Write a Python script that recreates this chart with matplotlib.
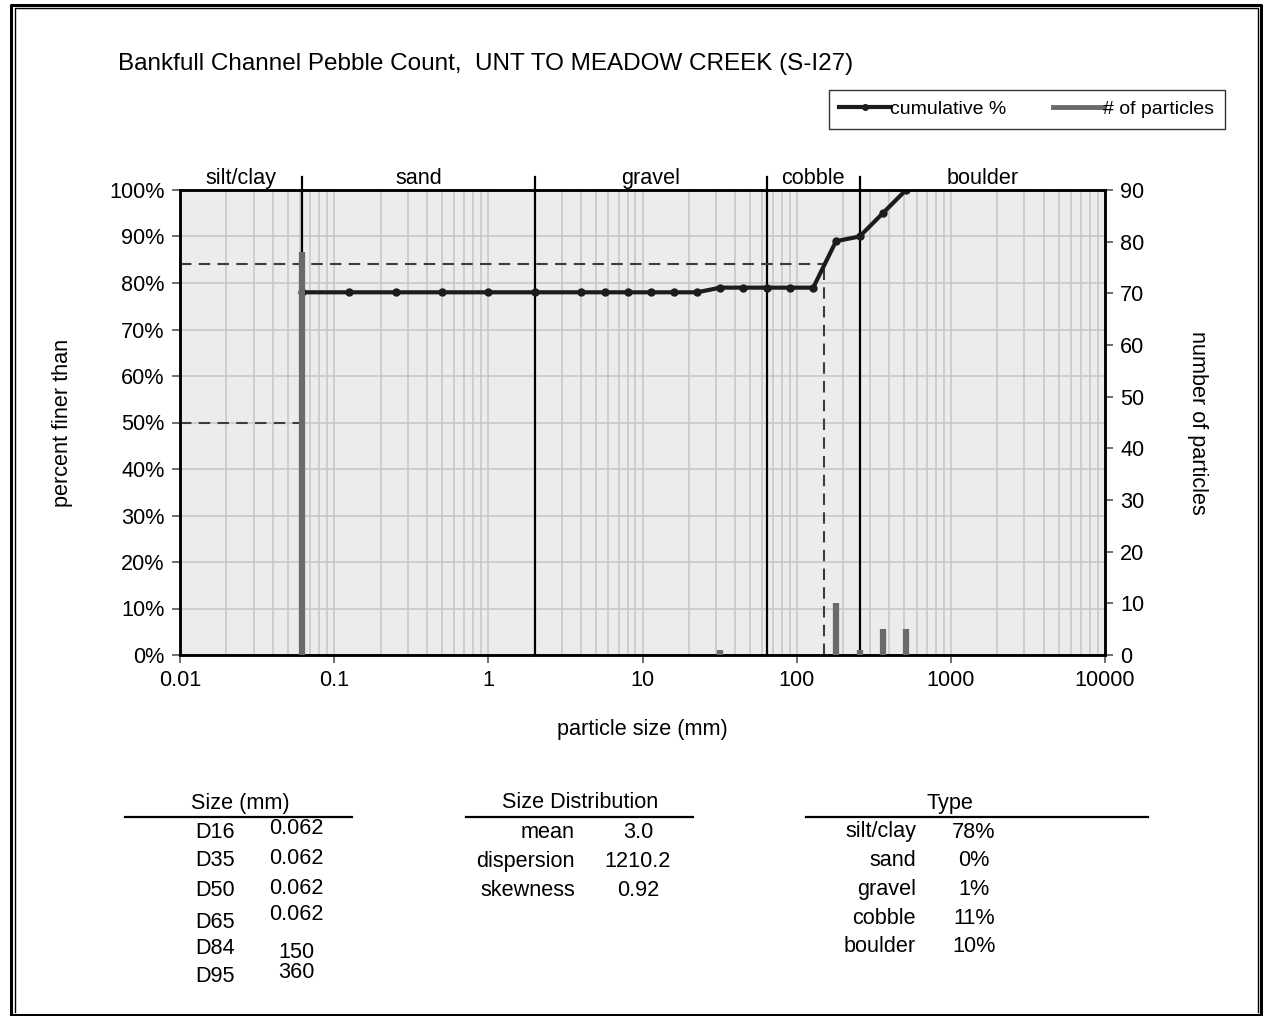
import matplotlib
matplotlib.use("Agg")
import matplotlib.pyplot as plt
from matplotlib.lines import Line2D
import matplotlib.transforms as mtransforms
from matplotlib.ticker import FixedLocator, NullFormatter

plt.rcParams['font.family'] = ['Liberation Sans', 'DejaVu Sans']

# data
sizes = [0.062, 0.125, 0.25, 0.5, 1, 2, 4, 5.7, 8, 11.3, 16, 22.6, 32, 45, 64, 90, 128, 180, 256, 362, 512]
cumulative = [78, 78, 78, 78, 78, 78, 78, 78, 78, 78, 78, 78, 79, 79, 79, 79, 79, 89, 90, 95, 100]
bar_sizes = [0.062, 32, 180, 256, 362, 512]
bar_counts = [78, 1, 10, 1, 5, 5]
class_names = ['silt/clay', 'sand', 'gravel', 'cobble', 'boulder']
class_bounds = [0.01, 0.062, 2, 64, 256, 10000]
d50 = 0.062
d84 = 150

size_labels = ['D16', 'D35', 'D50', 'D65', 'D84', 'D95']
size_values = ['0.062', '0.062', '0.062', '0.062', '150', '360']
dist_labels = ['mean', 'dispersion', 'skewness']
dist_values = ['3.0', '1210.2', '0.92']
type_labels = ['silt/clay', 'sand', 'gravel', 'cobble', 'boulder']
type_values = ['78%', '0%', '1%', '11%', '10%']

W, H = 1263, 1016
fig = plt.figure(figsize=(W / 100, H / 100), dpi=100)


def fx(x):
    return x / W


def fy(y):
    return 1 - y / H


FS = 15.6
ax = fig.add_axes([fx(180), fy(655), fx(925), 465 / H])
ax.set_facecolor('#ececec')
ax.set_xscale('log')
ax.set_xlim(0.01, 10000)
ax.set_ylim(0, 100)

# grid
minor = [m * 10.0 ** e for e in range(-2, 4) for m in range(2, 10)]
ax.xaxis.set_minor_locator(FixedLocator(minor))
ax.xaxis.set_minor_formatter(NullFormatter())
ax.set_xticks([0.01, 0.1, 1, 10, 100, 1000, 10000])
ax.set_xticklabels(['0.01', '0.1', '1', '10', '100', '1000', '10000'])
ax.set_yticks(range(0, 101, 10))
ax.set_yticklabels([f'{v}%' for v in range(0, 101, 10)])
ax.grid(True, which='both', axis='x', color='#c6c6c6', lw=1.1, zorder=0)
ax.grid(True, which='major', axis='y', color='#c6c6c6', lw=1.1, zorder=0)
ax.set_axisbelow(True)
ax.tick_params(axis='x', which='minor', length=0)
ax.tick_params(axis='both', which='major', labelsize=FS, length=6, width=1.2,
               color='#555555', direction='out', pad=5)
for s in ax.spines.values():
    s.set_linewidth(1.8)
    s.set_color('black')

# class boundaries and labels
trans = mtransforms.blended_transform_factory(ax.transData, ax.transAxes)
for b in class_bounds[1:-1]:
    ax.axvline(b, ymin=0, ymax=1.027, color='black', lw=1.6, clip_on=False, zorder=2)
for i, name in enumerate(class_names):
    xc = (class_bounds[i] * class_bounds[i + 1]) ** 0.5
    ax.text(xc, 1.002, name, transform=trans, ha='center', va='bottom', fontsize=FS)

# D50 / D84 guides
dash = (0, (5.5, 3.5))
ax.plot([0.01, d50], [50, 50], color='#3c3c3c', lw=1.5, ls=dash, zorder=3)
ax.plot([0.01, d84], [84, 84], color='#3c3c3c', lw=1.5, ls=dash, zorder=3)
ax.plot([d84, d84], [0, 84], color='#3c3c3c', lw=1.5, ls=dash, zorder=3)

ax.plot(sizes, cumulative, color='#1c1c1c', lw=3, marker='o', ms=5, zorder=4)

ax2 = ax.twinx()
ax2.set_ylim(0, 90)
ax2.set_yticks(range(0, 91, 10))
ax2.tick_params(axis='y', labelsize=FS, length=6, width=1.2, color='#555555',
                direction='out', pad=5)
ax2.vlines(bar_sizes, 0, bar_counts, color='#6a6a6a', lw=4.5, zorder=5)
for s in ax2.spines.values():
    s.set_linewidth(1.8)

ax.set_xlabel('particle size (mm)', fontsize=FS, labelpad=20)
ax.set_ylabel('percent finer than', fontsize=FS, labelpad=26)
ax2.set_ylabel('number of particles', fontsize=FS, rotation=-90, labelpad=46)

fig.text(fx(118), fy(64), 'Bankfull Channel Pebble Count,  UNT TO MEADOW CREEK (S-I27)',
         fontsize=17.5, ha='left', va='center')

handles = [Line2D([], [], color='#1c1c1c', lw=3, marker='o', ms=4),
           Line2D([], [], color='#6a6a6a', lw=3.5)]
leg = fig.legend(handles, ['cumulative %', '# of particles'], ncol=2,
                 loc='upper right', bbox_to_anchor=(fx(1225), fy(90)),
                 fontsize=14, frameon=True, fancybox=False, edgecolor='black',
                 handlelength=2.6, handletextpad=0.0, columnspacing=2.4,
                 borderpad=0.55, borderaxespad=0)
leg.get_frame().set_linewidth(1.0)

# tables
def header(text, xc, x0, x1):
    fig.text(fx(xc), fy(803), text, fontsize=FS, ha='center', va='center')
    fig.add_artist(Line2D([fx(x0), fx(x1)], [fy(817), fy(817)], color='black', lw=1.6))


header('Size (mm)', 240, 125, 352)
size_rows = [(832, 829), (861, 859), (890, 889), (922, 915), (948, 952), (976, 973)]
for (lab, val), (yl, yv) in zip(zip(size_labels, size_values), size_rows):
    fig.text(fx(215), fy(yl), lab, fontsize=FS, ha='center', va='center')
    fig.text(fx(296), fy(yv), val, fontsize=FS, ha='center', va='center')

header('Size Distribution', 580, 466, 693)
for i, (lab, val) in enumerate(zip(dist_labels, dist_values)):
    y = 832 + i * 29.5
    fig.text(fx(575), fy(y), lab, fontsize=FS, ha='right', va='center')
    fig.text(fx(638), fy(y), val, fontsize=FS, ha='center', va='center')

header('Type', 950, 806, 1148)
for i, (lab, val) in enumerate(zip(type_labels, type_values)):
    y = 832 + i * 28.7
    fig.text(fx(916), fy(y), lab, fontsize=FS, ha='right', va='center')
    fig.text(fx(974), fy(y), val, fontsize=FS, ha='center', va='center')

# double page border
fig.add_artist(Line2D([fx(11), fx(11), fx(1261), fx(1261), fx(11)],
                      [fy(1014.5), fy(4.5), fy(4.5), fy(1014.5), fy(1014.5)],
                      color='black', lw=2.2))
fig.add_artist(Line2D([fx(14.5), fx(14.5), fx(1257.5), fx(1257.5)],
                      [fy(1012), fy(8), fy(8), fy(1012)],
                      color='black', lw=1.0))

fig.savefig('out.png', dpi=100)
